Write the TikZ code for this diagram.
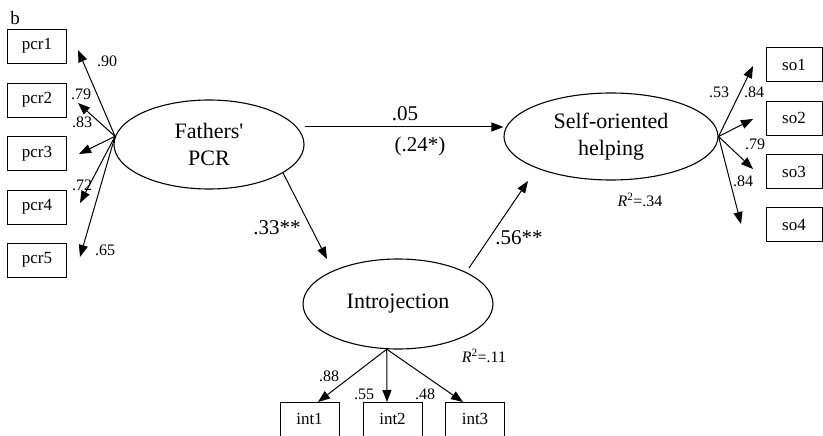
\documentclass[tikz,border=0pt]{standalone}
\usepackage{fontspec}
\setmainfont{Liberation Serif}
\usetikzlibrary{arrows.meta,shapes.geometric}
\begin{document}
\begin{tikzpicture}[x=1pt,y=-1pt,
  latent/.style={draw, ellipse, line width=1.1pt, inner sep=0pt, align=center,
    font=\fontsize{22}{27}\selectfont},
  obs/.style={draw, line width=0.9pt, minimum width=59pt, minimum height=34pt,
    inner sep=0pt, font=\fontsize{17}{20}\selectfont},
  arr/.style={line width=1pt, -{Triangle[length=12pt,width=9pt]}},
  load/.style={inner sep=0pt, font=\fontsize{16}{18}\selectfont},
  coef/.style={inner sep=0pt, font=\fontsize{21}{24}\selectfont}]
\useasboundingbox (0,0) rectangle (823,436);
\clip (0,0) rectangle (823,436);

\node[inner sep=0pt, font=\fontsize{19}{21}\selectfont] (lab) at (15,18) {b};

% latent variables
\node[latent, minimum width=190pt, minimum height=89pt] (F) at (209,144.5) {Fathers\textquotesingle\\PCR};
\node[latent, minimum width=214pt, minimum height=87pt] (S) at (611,136.5) {Self-oriented\\helping};
\node[latent, minimum width=190pt, minimum height=90pt] (I) at (398,304) {Introjection};

% indicators
\foreach \k/\y in {1/46,2/100,3/153.5,4/207,5/260}
  \node[obs] (pcr\k) at (37,\y) {pcr\k};
\foreach \k/\y in {1/64.5,2/118,3/171.5,4/224.5}
  \node[obs, minimum width=56pt] (so\k) at (794,\y) {so\k};
\node[obs] (int1) at (309.5,419) {int1};
\node[obs] (int2) at (392.5,419) {int2};
\node[obs] (int3) at (475,419) {int3};

% arrow ends in front of the indicators
\coordinate (fF) at (F.175);
\coordinate (fS) at (S.east);
\coordinate (fI) at (I.256);
\coordinate (tp1) at (78,50);
\coordinate (tp2) at (78,103);
\coordinate (tp3) at (79,154);
\coordinate (tp4) at (80,203);
\coordinate (tp5) at (80,257);
\coordinate (ts1) at (753,66);
\coordinate (ts2) at (753,119);
\coordinate (ts3) at (753,169);
\coordinate (ts4) at (741,224);
\coordinate (ti1) at (318,402);
\coordinate (ti2) at (387,402);
\coordinate (ti3) at (463,402);

\foreach \k in {1,...,5} \draw[arr] (fF) -- (tp\k);
\foreach \k in {1,...,4} \draw[arr] (fS) -- (ts\k);
\foreach \k in {1,2,3} \draw[arr] (fI) -- (ti\k);

% structural paths
\coordinate (fsA) at ([yshift=17.5pt]F.east);
\draw[arr] (fsA) -- (fsA -| S.west);
\coordinate (fiB) at (327,259);
\draw[arr] (F.-21) -- (fiB);
\coordinate (isA) at (469,268);
\coordinate (isB) at (528,181);
\draw[arr] (isA) -- (isB);

% loadings
\node[load] at (107,61) {.90};
\node[load] at (81,94) {.79};
\node[load] at (82,122) {.83};
\node[load] at (82,185) {.72};
\node[load] at (105,250) {.65};
\node[load] at (719,92) {.53};
\node[load] at (754,92) {.84};
\node[load] at (755,144) {.79};
\node[load] at (743,181) {.84};
\node[load] at (329,376) {.88};
\node[load] at (364,394) {.55};
\node[load] at (425,394) {.48};

% path coefficients
\node[coef] at (405,114) {.05};
\node[coef] at (420,146) {(.24*)};
\node[coef] at (277,228) {.33**};
\node[coef] at (519,238) {.56**};

% explained variance
\node[load] at (640,200) {\textit{R}\textsuperscript{2}=.34};
\node[load] at (484,356) {\textit{R}\textsuperscript{2}=.11};
\end{tikzpicture}
\end{document}
